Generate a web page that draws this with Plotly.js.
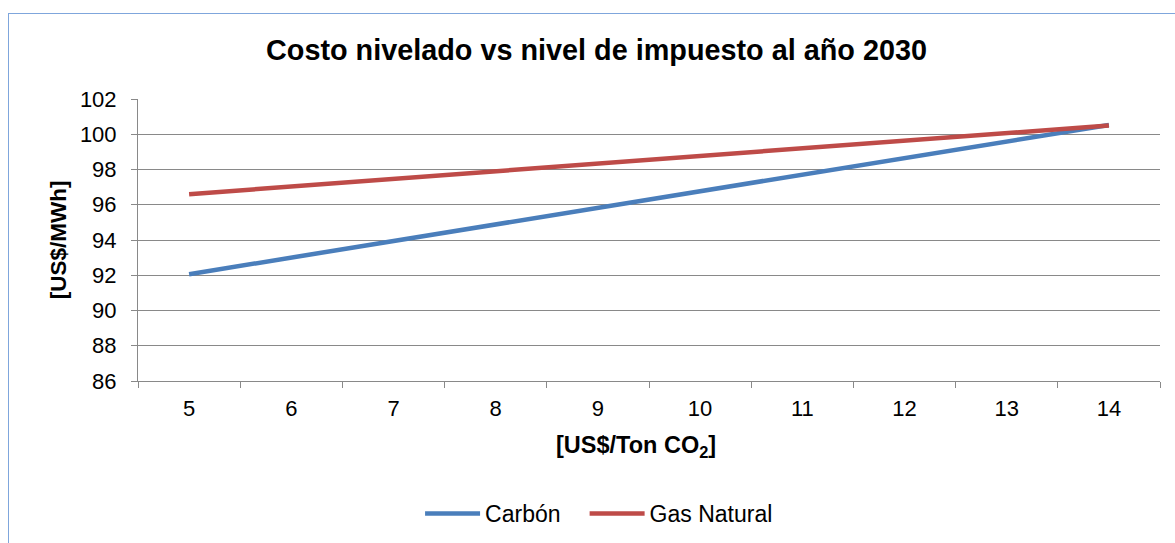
<!DOCTYPE html>
<html>
<head>
<meta charset="utf-8">
<script src="https://cdn.plot.ly/plotly-3.0.1.min.js"></script>
<style>
  body { margin: 0; background: #fff; overflow: hidden; }
  #frame { position: absolute; left: 8px; top: 13px; width: 1175px; height: 543px; border: 1px solid #7FA6DC; }
  #chart { width: 1175px; height: 543px; }
</style>
</head>
<body>
<div id="frame"><div id="chart"></div></div>
<script>
// tax level [US$/Ton CO2]
const taxLevels = ['5', '6', '7', '8', '9', '10', '11', '12', '13', '14'];
// levelized cost [US$/MWh]
const carbon = [92.06, 93.0, 93.95, 94.89, 95.83, 96.77, 97.71, 98.65, 99.59, 100.53];
const naturalGas = [96.6, 97.03, 97.46, 97.9, 98.33, 98.77, 99.2, 99.63, 100.07, 100.5];
const seriesNames = ['Carbón', 'Gas Natural'];

const font = 'Liberation Sans, Arial, sans-serif';

const traces = [
  {
    x: taxLevels, y: carbon, name: seriesNames[0],
    type: 'scatter', mode: 'lines',
    line: { color: '#4A7EBB', width: 4.5 },
    legend: 'legend'
  },
  {
    x: taxLevels, y: naturalGas, name: seriesNames[1],
    type: 'scatter', mode: 'lines',
    line: { color: '#BE4B48', width: 4.5 },
    legend: 'legend2'
  }
];

// one legend per series so the gap between entries can match the original
const legendStyle = {
  orientation: 'h',
  xanchor: 'left',
  y: -0.47, yanchor: 'middle',
  itemwidth: 55,
  font: { family: font, size: 23 },
  bgcolor: 'rgba(0,0,0,0)'
};

const layout = {
  width: 1175,
  height: 543,
  margin: { l: 129, r: 24, t: 85, b: 176 },
  paper_bgcolor: '#fff',
  plot_bgcolor: '#fff',
  font: { family: font, color: '#000', size: 22 },
  showlegend: true,
  title: {
    text: '<b>Costo nivelado vs nivel de impuesto al año 2030</b>',
    font: { family: font, size: 28.8, color: '#000' },
    x: 0.5, xanchor: 'center',
    y: 0.934, yanchor: 'middle'
  },
  xaxis: {
    type: 'category',
    range: [-0.5, taxLevels.length - 0.5],
    tickson: 'boundaries',
    ticks: 'outside', ticklen: 6, tickcolor: '#898989', tickwidth: 1,
    ticklabelstandoff: 8,
    showline: true, linecolor: '#898989', linewidth: 1,
    showgrid: false, zeroline: false,
    tickfont: { family: font, size: 22 },
    fixedrange: true
  },
  yaxis: {
    range: [86, 102],
    dtick: 2,
    ticks: 'outside', ticklen: 6, tickcolor: '#898989', tickwidth: 1,
    ticklabelstandoff: 10,
    showline: true, linecolor: '#898989', linewidth: 1,
    showgrid: true, gridcolor: '#898989', gridwidth: 1,
    zeroline: false,
    tickfont: { family: font, size: 22 },
    fixedrange: true
  },
  legend: Object.assign({}, legendStyle, { x: 0.276 }),
  legend2: Object.assign({}, legendStyle, { x: 0.437 }),
  annotations: [
    {
      text: '<b>[US$/Ton CO<sub>2</sub>]</b>',
      xref: 'paper', yref: 'paper',
      x: 0.487, y: -0.231, xanchor: 'center', yanchor: 'middle',
      showarrow: false,
      font: { family: font, size: 23.5, color: '#000' }
    },
    {
      text: '<b>[US$/MWh]</b>',
      xref: 'paper', yref: 'paper',
      x: -0.078, y: 0.5, xanchor: 'center', yanchor: 'middle',
      textangle: -90,
      showarrow: false,
      font: { family: font, size: 22.5, color: '#000' }
    }
  ]
};

Plotly.newPlot('chart', traces, layout, { displayModeBar: false, staticPlot: true });
</script>
</body>
</html>
